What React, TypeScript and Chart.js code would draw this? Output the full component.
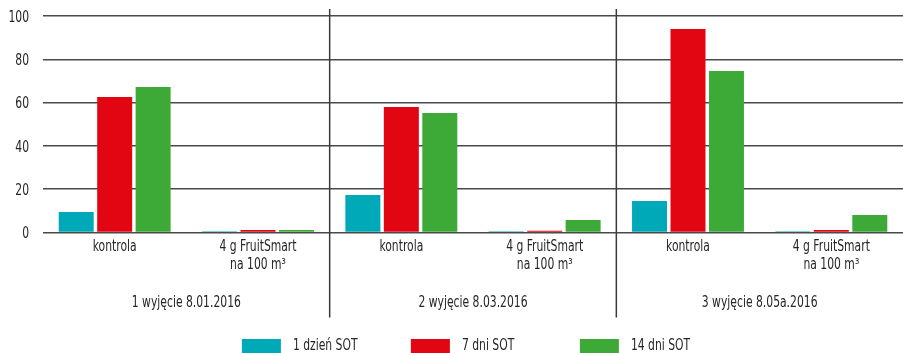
import React, { useEffect, useRef } from "react";
import { Chart, registerables } from "chart.js";

Chart.register(...registerables);

// Categories along the x axis (two per sampling date)
const categories: string[][] = [
  ["kontrola"],
  ["4 g FruitSmart", "na 100 m³"],
  ["kontrola"],
  ["4 g FruitSmart", "na 100 m³"],
  ["kontrola"],
  ["4 g FruitSmart", "na 100 m³"],
];

// Sampling dates, each spanning two categories
const groupLabels = ["1 wyjęcie 8.01.2016", "2 wyjęcie 8.03.2016", "3 wyjęcie 8.05a.2016"];

// Series values
const seriesNames = ["1 dzień SOT", "7 dni SOT", "14 dni SOT"];
const day1 = [9.5, 0.6, 17.3, 0.6, 14.5, 0.6];
const day7 = [62.6, 1.2, 58, 0.8, 94, 1.2];
const day14 = [67.2, 1.2, 55.2, 5.8, 74.6, 8.1];
const seriesColors = ["#00A9B8", "#E20613", "#3DAA37"];

const yTicks = [0, 20, 40, 60, 80, 100];

const FONT = "'Liberation Sans Narrow', 'DejaVu Sans Condensed', 'Roboto Condensed', sans-serif";
const TEXT = "#262626";
const SQUEEZE = 0.8; // condensed lettering

function drawText(ctx: CanvasRenderingContext2D, text: string, x: number, y: number, align: CanvasTextAlign) {
  ctx.save();
  ctx.translate(x, y);
  ctx.scale(SQUEEZE, 1);
  ctx.textAlign = align;
  ctx.fillText(text, 0, 0);
  ctx.restore();
}

// Axis labels, date separators, date labels and the legend
const labelPlugin = {
  id: "labelDecor",
  afterDraw(chart: any) {
    const { ctx, chartArea, scales } = chart;
    const x = scales.x;
    const y = scales.y;
    const perGroup = categories.length / groupLabels.length;
    ctx.save();
    ctx.fillStyle = TEXT;
    ctx.font = `15px ${FONT}`;
    ctx.textBaseline = "middle";

    // y tick labels
    yTicks.forEach((v) => {
      drawText(ctx, String(v), chartArea.left - 14, y.getPixelForValue(v) + 2, "right");
    });

    // x category labels
    categories.forEach((lines, i) => {
      const px = x.getPixelForTick(i);
      lines.forEach((line, j) => {
        drawText(ctx, line, px, chartArea.bottom + 14.5 + j * 18, "center");
      });
    });

    // separators between dates
    ctx.strokeStyle = "#3a3a3a";
    ctx.lineWidth = 1.5;
    for (let g = 1; g < groupLabels.length; g++) {
      const i = g * perGroup;
      const px = (x.getPixelForTick(i - 1) + x.getPixelForTick(i)) / 2;
      ctx.beginPath();
      ctx.moveTo(px, chartArea.top - 7);
      ctx.lineTo(px, chartArea.bottom + 85);
      ctx.stroke();
    }

    // date labels
    groupLabels.forEach((lbl, g) => {
      const a = x.getPixelForTick(g * perGroup);
      const b = x.getPixelForTick(g * perGroup + perGroup - 1);
      drawText(ctx, lbl, (a + b) / 2, chartArea.bottom + 70.5, "center");
    });

    // legend
    const slot = 169;
    const boxW = 39;
    const boxH = 14;
    const gap = 12;
    const lastW = ctx.measureText(seriesNames[seriesNames.length - 1]).width * SQUEEZE;
    const total = slot * (seriesNames.length - 1) + boxW + gap + lastW;
    const cx = (chartArea.left + chartArea.right) / 2 - 7;
    const startX = cx - total / 2;
    const boxTop = chartArea.bottom + 106.5;
    seriesNames.forEach((name, k) => {
      const bx = startX + k * slot;
      ctx.fillStyle = seriesColors[k];
      ctx.fillRect(bx, boxTop, boxW, boxH);
      ctx.fillStyle = TEXT;
      drawText(ctx, name, bx + boxW + gap, boxTop + boxH / 2, "left");
    });
    ctx.restore();
  },
};

export default function App() {
  const canvasRef = useRef<HTMLCanvasElement | null>(null);

  useEffect(() => {
    document.body.style.margin = "0";
    const canvas = canvasRef.current;
    if (!canvas) return;
    const seriesData = [day1, day7, day14];
    const chart = new Chart(canvas, {
      type: "bar",
      data: {
        labels: categories,
        datasets: seriesNames.map((name, k) => ({
          label: name,
          data: seriesData[k],
          backgroundColor: seriesColors[k],
          borderWidth: 0,
          categoryPercentage: 0.805,
          barPercentage: 0.91,
        })),
      },
      options: {
        responsive: false,
        animation: false,
        maintainAspectRatio: false,
        layout: { padding: { top: 16, left: 43, right: 0, bottom: 120.5 } },
        plugins: {
          legend: { display: false },
          tooltip: { enabled: false },
        },
        scales: {
          x: {
            grid: { display: false, drawTicks: false },
            border: { display: false },
            ticks: { display: false },
          },
          y: {
            min: 0,
            max: 100,
            afterBuildTicks: (scale: any) => {
              scale.ticks = yTicks.map((v) => ({ value: v }));
            },
            grid: { color: "#4a4a4a", lineWidth: 1.5, drawTicks: false },
            border: { display: false },
            ticks: { display: false },
          },
        },
      },
      plugins: [labelPlugin],
    });
    return () => chart.destroy();
  }, []);

  return (
    <div style={{ width: 903, height: 353, background: "#fff" }}>
      <canvas ref={canvasRef} width={903} height={353} />
    </div>
  );
}
